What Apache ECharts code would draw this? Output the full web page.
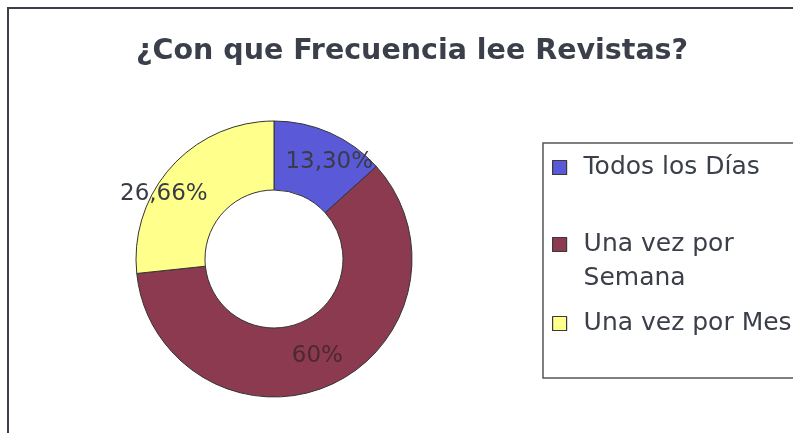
<!DOCTYPE html>
<html>
<head>
<meta charset="utf-8">
<script src="https://cdn.jsdelivr.net/npm/echarts@6/dist/echarts.min.js"></script>
<style>
  html, body { margin: 0; padding: 0; background: #fff; }
  #chart { width: 793px; height: 433px; }
</style>
</head>
<body>
<div id="chart"></div>
<script>
const titleText = '¿Con que Frecuencia lee Revistas?';
const categories = ['Todos los Días', 'Una vez por Semana', 'Una vez por Mes'];
const shares = [13.30, 60, 26.66];
const shareLabels = ['13,30%', '60%', '26,66%'];
const colors = ['#5a5ad8', '#8c3a4f', '#ffff8c'];

const ink = '#3a3f4a';
const chart = echarts.init(document.getElementById('chart'));

// per-slice label tweaks so the text sits where the original put it
const labelTweaks = [
    { padding: [0, 0, 0, 24] },
    { color: '#4d2834' },
    // empty first line + tight lineHeight nudges it a bit lower
    { padding: [0, 62, 0, 0], lineHeight: 12, prefix: '\n' }
];

const pieData = categories.map((name, i) => {
    const tw = Object.assign({}, labelTweaks[i]);
    const prefix = tw.prefix || '';
    delete tw.prefix;
    return {
        name: name,
        value: shares[i],
        itemStyle: { color: colors[i] },
        label: Object.assign({ formatter: prefix + shareLabels[i] }, tw)
    };
});

const legendRich = {
    t: {
        fontFamily: 'DejaVu Sans',
        fontSize: 25,
        lineHeight: 34,
        color: ink,
        padding: [0, 0, 0, 12]
    }
};

function legendFor(name, top, lines) {
    return {
        data: [name],
        left: 552,
        top: top,
        padding: 0,
        orient: 'vertical',
        icon: 'rect',
        itemWidth: 14,
        itemHeight: 14,
        itemStyle: { borderColor: '#3a3a3a', borderWidth: 1.2 },
        formatter: () => lines.map(s => '{t|' + s + '}').join('\n'),
        textStyle: { rich: legendRich },
        selectedMode: false
    };
}

chart.setOption({
    animation: false,
    title: {
        text: titleText,
        left: 131,
        top: 32,
        textStyle: {
            fontFamily: 'DejaVu Sans',
            fontWeight: 'bold',
            fontSize: 28.5,
            color: ink
        }
    },
    legend: [
        legendFor(categories[0], 155, ['Todos los Días']),
        // blank first line keeps the icon beside "Una vez por"
        legendFor(categories[1], 198, [' ', 'Una vez por', 'Semana']),
        legendFor(categories[2], 311, ['Una vez por Mes'])
    ],
    graphic: [
        { type: 'polyline', shape: { points: [[8, 433], [8, 8], [793, 8]] },
          style: { stroke: ink, lineWidth: 2, fill: null } },
        { type: 'rect', shape: { x: 543, y: 143, width: 270, height: 235 },
          style: { stroke: '#555', lineWidth: 1.5, fill: null } }
    ],
    series: [{
        type: 'pie',
        center: [274, 259],
        radius: [69, 138],
        startAngle: 90,
        clockwise: true,
        itemStyle: { borderColor: '#333', borderWidth: 1 },
        label: {
            position: 'inside',
            fontFamily: 'DejaVu Sans',
            fontSize: 23,
            color: '#393c46'
        },
        labelLine: { show: false },
        emphasis: { disabled: true },
        data: pieData
    }]
});
</script>
</body>
</html>
